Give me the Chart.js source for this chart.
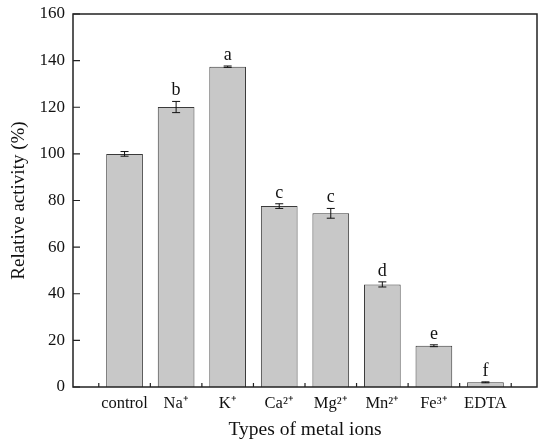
<!DOCTYPE html>
<html>
<head>
<meta charset="utf-8">
<script src="https://cdn.jsdelivr.net/npm/chart.js@4"></script>
<style>
  html, body { margin: 0; padding: 0; background: #fff; }
  #wrap { width: 550px; height: 447px; }
</style>
</head>
<body>
<div id="wrap"><canvas id="chart"></canvas></div>
<script>
const categories = ['control', 'Na⁺', 'K⁺', 'Ca²⁺', 'Mg²⁺', 'Mn²⁺', 'Fe³⁺', 'EDTA'];
const activity = [100, 120.1, 137.4, 77.6, 74.5, 44.0, 17.7, 2.0];
const errors = [1.0, 2.4, 0.3, 1.0, 2.1, 1.1, 0.4, 0.2];
const letters = ['', 'b', 'a', 'c', 'c', 'd', 'e', 'f'];
const yTicks = [0, 20, 40, 60, 80, 100, 120, 140, 160];

const serif = '"Liberation Serif", "Times New Roman", serif';

// bars sit at x = 1..8 on a 0..9 linear axis
const points = activity.map((v, i) => ({ x: i + 1, y: v }));

const frame = {
  id: 'frame',
  afterDatasetsDraw(chart) {
    const { ctx, chartArea: a, scales: { x, y } } = chart;
    ctx.save();

    // error bars
    ctx.strokeStyle = '#111';
    ctx.lineWidth = 1;
    points.forEach((p, i) => {
      const px = x.getPixelForValue(p.x);
      const top = y.getPixelForValue(p.y + errors[i]);
      const bot = y.getPixelForValue(p.y - errors[i]);
      ctx.beginPath();
      ctx.moveTo(px, top); ctx.lineTo(px, bot);
      ctx.moveTo(px - 4, top); ctx.lineTo(px + 4, top);
      ctx.moveTo(px - 4, bot); ctx.lineTo(px + 4, bot);
      ctx.stroke();
    });

    // significance letters
    ctx.fillStyle = '#111';
    ctx.font = '18px ' + serif;
    ctx.textAlign = 'center';
    ctx.textBaseline = 'alphabetic';
    points.forEach((p, i) => {
      if (!letters[i]) return;
      const px = x.getPixelForValue(p.x);
      const top = y.getPixelForValue(p.y + errors[i]);
      ctx.fillText(letters[i], px, top - 6);
    });

    // box
    ctx.strokeStyle = '#222';
    ctx.lineWidth = 1.5;
    ctx.strokeRect(a.left, a.top, a.right - a.left, a.bottom - a.top);

    // inward ticks
    ctx.lineWidth = 1.2;
    ctx.beginPath();
    yTicks.forEach(t => {
      const py = y.getPixelForValue(t);
      ctx.moveTo(a.left, py); ctx.lineTo(a.left + 7, py);
    });
    for (let k = 0.5; k < 9; k += 1) {
      const px = x.getPixelForValue(k);
      ctx.moveTo(px, a.bottom); ctx.lineTo(px, a.bottom - 4);
    }
    ctx.stroke();
    ctx.restore();
  }
};

new Chart(document.getElementById('chart'), {
  type: 'bar',
  data: {
    datasets: [{
      data: points,
      backgroundColor: '#c8c8c8',
      borderColor: '#3a3a3a',
      borderWidth: 1,
      categoryPercentage: 0.8,
      barPercentage: 0.89
    }]
  },
  options: {
    responsive: true,
    maintainAspectRatio: false,
    animation: false,
    layout: { padding: { left: 0, right: 13, top: 14, bottom: 0 } },
    plugins: { legend: { display: false }, tooltip: { enabled: false } },
    scales: {
      x: {
        type: 'linear',
        min: 0,
        max: 9,
        offset: false,
        grid: { display: false, drawTicks: false },
        border: { display: false },
        ticks: {
          stepSize: 1,
          padding: 7,
          color: '#111',
          font: { family: serif, size: 16.5 },
          maxRotation: 0,
          autoSkip: false,
          callback: v => (v >= 1 && v <= 8) ? categories[v - 1] : ''
        },
        title: {
          display: true,
          text: 'Types of metal ions',
          color: '#111',
          font: { family: serif, size: 19.5 },
          padding: { top: 0, bottom: 5 }
        },
        afterFit: s => { s.height = 60; s.paddingLeft = 0; s.paddingRight = 0; }
      },
      y: {
        min: 0,
        max: 160,
        grid: { display: false, drawTicks: false },
        border: { display: false },
        afterBuildTicks: s => { s.ticks = yTicks.map(v => ({ value: v })); },
        ticks: {
          padding: 8,
          color: '#111',
          font: { family: serif, size: 17 }
        },
        title: {
          display: true,
          text: 'Relative activity (%)',
          color: '#111',
          font: { family: serif, size: 19 },
          padding: { top: 8, bottom: 0 }
        },
        afterFit: s => { s.width = 73; s.paddingTop = 0; s.paddingBottom = 0; }
      }
    }
  },
  plugins: [frame]
});
</script>
</body>
</html>
